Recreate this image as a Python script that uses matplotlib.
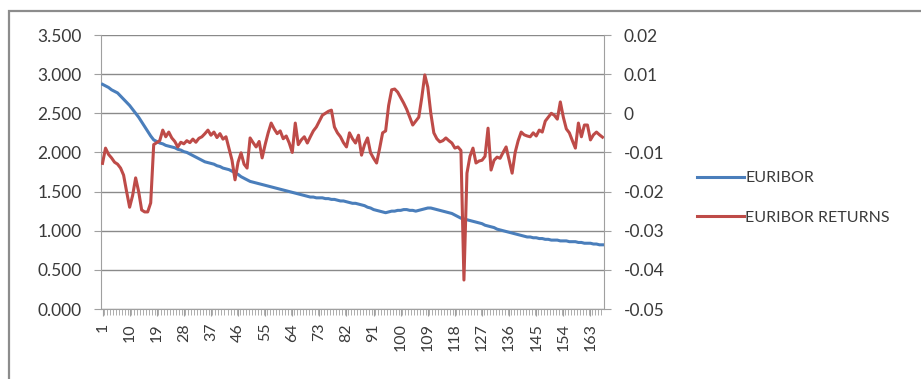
import matplotlib
matplotlib.use("Agg")
import matplotlib.pyplot as plt
from matplotlib.patches import Rectangle
from matplotlib.lines import Line2D

plt.rcParams['font.family'] = ['Lato', 'DejaVu Sans']

# EURIBOR level (left axis)
euribor = [
    2.87, 2.85, 2.83, 2.80, 2.78, 2.76, 2.72, 2.68, 2.64, 2.60,
    2.55, 2.50, 2.45, 2.39, 2.33, 2.27, 2.21, 2.16, 2.14, 2.12,
    2.11, 2.09, 2.08, 2.07, 2.06, 2.04, 2.03, 2.01, 2.00, 1.98,
    1.96, 1.94, 1.92, 1.90, 1.88, 1.87, 1.86, 1.85, 1.83, 1.82,
    1.80, 1.79, 1.78, 1.76, 1.74, 1.72, 1.69, 1.67, 1.65, 1.63,
    1.62, 1.61, 1.60, 1.59, 1.58, 1.57, 1.56, 1.55, 1.54, 1.53,
    1.52, 1.51, 1.50, 1.49, 1.48, 1.47, 1.46, 1.45, 1.44, 1.43,
    1.43, 1.42, 1.42, 1.42, 1.41, 1.41, 1.40, 1.40, 1.39, 1.38,
    1.38, 1.37, 1.36, 1.35, 1.35, 1.34, 1.33, 1.32, 1.30, 1.29,
    1.27, 1.26, 1.25, 1.24, 1.23, 1.24, 1.25, 1.25, 1.26, 1.26,
    1.27, 1.27, 1.26, 1.26, 1.25, 1.26, 1.27, 1.28, 1.29, 1.29,
    1.28, 1.27, 1.26, 1.25, 1.24, 1.23, 1.22, 1.20, 1.18, 1.16,
    1.15, 1.14, 1.13, 1.12, 1.11, 1.10, 1.09, 1.07, 1.06, 1.05,
    1.04, 1.02, 1.01, 1.00, 0.99, 0.98, 0.97, 0.96, 0.95, 0.94,
    0.93, 0.92, 0.92, 0.91, 0.91, 0.90, 0.90, 0.89, 0.89, 0.88,
    0.88, 0.88, 0.87, 0.87, 0.87, 0.86, 0.86, 0.86, 0.85, 0.85,
    0.84, 0.84, 0.84, 0.83, 0.83, 0.82, 0.82,
]

# EURIBOR returns (right axis)
returns = [
    -0.0128, -0.0089, -0.0105, -0.0114, -0.0125, -0.0130, -0.0140, -0.0158, -0.0200, -0.0240,
    -0.0210, -0.0165, -0.0200, -0.0247, -0.0252, -0.0252, -0.0229, -0.0080, -0.0075, -0.0070,
    -0.0043, -0.0060, -0.0048, -0.0063, -0.0072, -0.0086, -0.0074, -0.0078, -0.0070, -0.0075,
    -0.0066, -0.0074, -0.0064, -0.0060, -0.0052, -0.0043, -0.0056, -0.0048, -0.0062, -0.0052,
    -0.0066, -0.0060, -0.0090, -0.0120, -0.0170, -0.0125, -0.0101, -0.0130, -0.0140, -0.0063,
    -0.0075, -0.0086, -0.0072, -0.0114, -0.0080, -0.0050, -0.0025, -0.0040, -0.0052, -0.0045,
    -0.0065, -0.0058, -0.0076, -0.0100, -0.0025, -0.0080, -0.0068, -0.0060, -0.0076, -0.0060,
    -0.0045, -0.0035, -0.0020, -0.0005, 0.0000, 0.0005, 0.0008, -0.0035, -0.0050, -0.0060,
    -0.0075, -0.0086, -0.0050, -0.0065, -0.0076, -0.0056, -0.0107, -0.0080, -0.0063, -0.0101,
    -0.0115, -0.0127, -0.0090, -0.0050, -0.0045, 0.0020, 0.0060, 0.0062, 0.0054, 0.0040,
    0.0026, 0.0010, -0.0010, -0.0030, -0.0020, -0.0010, 0.0040, 0.0098, 0.0067, 0.0000,
    -0.0050, -0.0065, -0.0073, -0.0070, -0.0063, -0.0070, -0.0076, -0.0089, -0.0086, -0.0095,
    -0.0426, -0.0153, -0.0110, -0.0089, -0.0127, -0.0122, -0.0120, -0.0110, -0.0038, -0.0145,
    -0.0120, -0.0112, -0.0115, -0.0100, -0.0086, -0.0120, -0.0153, -0.0100, -0.0070, -0.0048,
    -0.0055, -0.0058, -0.0060, -0.0050, -0.0058, -0.0043, -0.0048, -0.0020, -0.0010, 0.0000,
    -0.0005, -0.0015, 0.0029, -0.0010, -0.0040, -0.0050, -0.0070, -0.0089, -0.0025, -0.0060,
    -0.0030, -0.0030, -0.0068, -0.0055, -0.0048, -0.0055, -0.0061,
]

periods = list(range(1, len(euribor) + 1))
xtick_labels = [str(p) for p in periods[::9]]
left_ticks = [0.0, 0.5, 1.0, 1.5, 2.0, 2.5, 3.0, 3.5]
right_ticks = [-0.05, -0.04, -0.03, -0.02, -0.01, 0.0, 0.01, 0.02]

BLUE = '#4a7ebb'
RED = '#be4b48'
GRID = '#8a8a8a'
AXIS = '#a0a0a0'
TEXT = '#3a3a3a'

fig = plt.figure(figsize=(9.21, 3.79), dpi=100)
fig.patch.set_facecolor('white')

# chart frame
fig.patches.append(Rectangle((9 / 921, -0.2), 1.2, 1.2 - 11 / 379,
                             transform=fig.transFigure, fill=False,
                             edgecolor='#8c8c8c', linewidth=1.6, zorder=0))

ax = fig.add_axes([101 / 921, 1 - 309 / 379, (604 - 101) / 921, (309 - 35) / 379])
ax2 = ax.twinx()

ax.plot(periods, euribor, color=BLUE, linewidth=2.2, zorder=3)
ax2.plot(periods, returns, color=RED, linewidth=2.2, zorder=3)

ax.set_xlim(0.5, len(periods) + 0.5)
ax.set_ylim(0, 3.5)
ax2.set_ylim(-0.05, 0.02)

ax.set_yticks(left_ticks)
ax.set_yticklabels([f'{v:.3f}' for v in left_ticks])
ax2.set_yticks(right_ticks)
ax2.set_yticklabels(['0' if v == 0 else f'{v:.2f}' for v in right_ticks])

ax.set_xticks(periods[::9])
ax.set_xticklabels(xtick_labels, rotation=90)
ax.set_xticks([p + 0.5 for p in periods[:-1]], minor=True)

ax.yaxis.grid(True, color=GRID, linewidth=1.0)
ax.set_axisbelow(True)

for a in (ax, ax2):
    for s in a.spines.values():
        s.set_visible(False)
ax.spines['left'].set_visible(True)
ax.spines['left'].set_color(AXIS)
ax.spines['bottom'].set_visible(True)
ax.spines['bottom'].set_color(AXIS)
ax2.spines['right'].set_visible(True)
ax2.spines['right'].set_color(AXIS)

ax.tick_params(axis='y', length=5, color=AXIS, labelsize=12.5, labelcolor=TEXT, pad=9)
ax2.tick_params(axis='y', length=5, color=AXIS, labelsize=12.5, labelcolor=TEXT, pad=9)
ax.tick_params(axis='x', which='major', length=5, color=AXIS, labelsize=11.5,
               labelcolor=TEXT, pad=5)
ax.tick_params(axis='x', which='minor', length=4, color=AXIS)

handles = [Line2D([], [], color=BLUE, linewidth=2.2),
           Line2D([], [], color=RED, linewidth=2.2)]
fig.legend(handles, ['EURIBOR', 'EURIBOR RETURNS'], loc='center left',
           bbox_to_anchor=(691 / 921, 1 - 198 / 379), frameon=False,
           fontsize=11.5, labelcolor=TEXT, handlelength=2.9, handletextpad=0.1,
           labelspacing=1.6, borderaxespad=0)

fig.savefig('out.png', dpi=100)
